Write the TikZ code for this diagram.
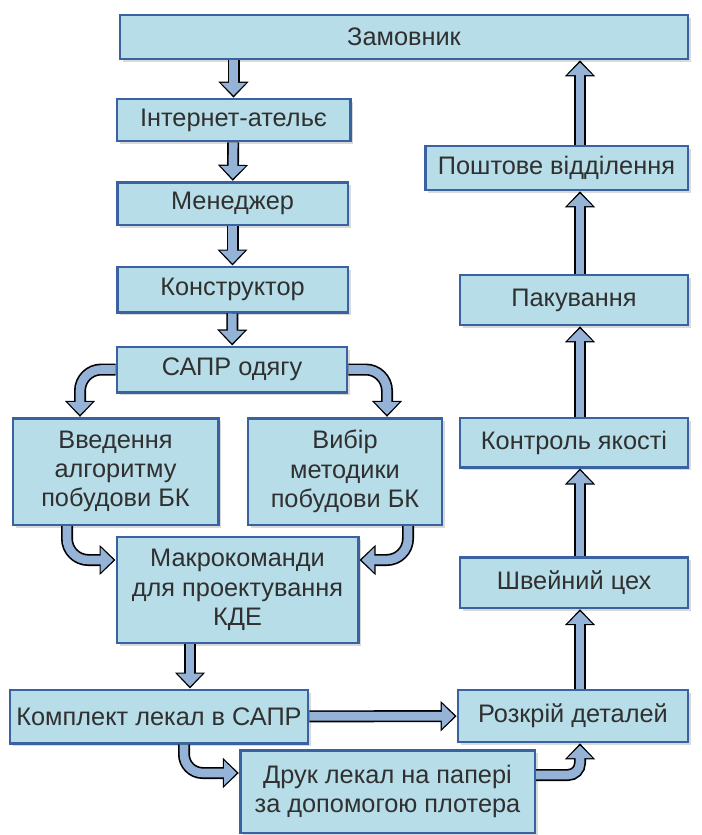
\documentclass[tikz,border=0pt]{standalone}
\usepackage{fontspec}
\setmainfont{Liberation Sans}
\usetikzlibrary{arrows.meta,shadows}

\definecolor{boxfill}{HTML}{B7DDE8}
\definecolor{boxline}{HTML}{3A61A0}
\definecolor{arrfill}{HTML}{95B3D7}
\definecolor{txt}{HTML}{303030}

\tikzstyle{blk}=[draw=boxline, line width=2pt, fill=boxfill, text=txt, align=center, inner sep=2pt,
  font=\fontsize{19}{22}\selectfont,
  drop shadow={shadow xshift=2pt, shadow yshift=-2pt, opacity=0.3}]
\tikzstyle{flow}=[draw=arrfill, line width=6.5pt, shorten >=1.6pt, -{Triangle[width=18pt,length=9.5pt]},
  preaction={draw=black, line width=9pt, shorten >=0pt, -{Triangle[width=22pt,length=12pt]}}]

\begin{document}
\begin{tikzpicture}[x=0.75pt, y=-0.75pt]
    \useasboundingbox (0,0) rectangle (702,835);

    % left column
    \node [blk, minimum width=426pt, minimum height=33pt] (zam) at (404,37) {Замовник};
    \node [blk, minimum width=175pt, minimum height=31.5pt] (inet) at (233.5,120) {Інтернет-ательє};
    \node [blk, minimum width=173pt, minimum height=32pt] (mgr) at (232.5,203.5) {Менеджер};
    \node [blk, minimum width=173pt, minimum height=34pt] (konstr) at (232.5,289.5) {Конструктор};
    \node [blk, minimum width=172.5pt, minimum height=34pt] (sapr) at (232,369.5) {САПР одягу};
    \node [blk, minimum width=154pt, minimum height=80pt] (vved) at (115.5,471.5) {Введення\\алгоритму\\побудови БК};
    \node [blk, minimum width=145.5pt, minimum height=80pt] (vybir) at (345,471.5) {Вибір\\методики\\побудови БК};
    \node [blk, minimum width=181pt, minimum height=79.5pt] (makro) at (237.5,590) {Макрокоманди\\для проектування\\КДЕ};
    \node [blk, minimum width=223.5pt, minimum height=40pt] (kompl) at (159,716.5) {Комплект лекал в САПР};
    \node [blk, minimum width=221pt, minimum height=62pt] (druk) at (387.5,791.5) {Друк лекал на папері\\за допомогою плотера};

    % right column
    \node [blk, minimum width=172.5pt, minimum height=39pt] (rozkr) at (573,716) {Розкрій деталей};
    \node [blk, minimum width=171pt, minimum height=38pt] (shv) at (574,582.5) {Швейний цех};
    \node [blk, minimum width=171pt, minimum height=37pt] (kontr) at (574,442.5) {Контроль якості};
    \node [blk, minimum width=171pt, minimum height=37.5pt] (pakuv) at (574,300) {Пакування};
    \node [blk, minimum width=197pt, minimum height=33pt] (posht) at (556.5,168) {Поштове відділення};

    \coordinate (lc) at (80,0);
    \coordinate (rc1) at (387,0);
    \coordinate (ml) at (67,560);
    \coordinate (mr) at (408,560);
    \coordinate (dk) at (190,0);
    \coordinate (kd) at (184,773);
    \coordinate (dr) at (580,775);
    \coordinate (rc) at (580,0);

    \draw [flow] (zam.south -| inet) -- (inet.north);
    \draw [flow] (inet) -- (mgr);
    \draw [flow] (mgr) -- (konstr);
    \draw [flow] (konstr) -- (sapr);
    \draw [flow, rounded corners=16pt] (sapr.west) -| (vved.north -| lc);
    \draw [flow, rounded corners=16pt] (sapr.east) -| (vybir.north -| rc1);
    \draw [flow, rounded corners=16pt] (vved.south -| ml) |- (makro.west |- ml);
    \draw [flow, rounded corners=16pt] (vybir.south -| mr) |- (makro.east |- mr);
    \draw [flow] (makro.south -| dk) -- (kompl.north -| dk);
    \draw [flow] (kompl) -- (rozkr);
    \draw [flow, rounded corners=14pt] (kompl.south -| kd) |- (druk.west |- kd);
    \draw [flow, rounded corners=9pt] (druk.east |- dr) -| (rozkr.south -| dr);
    \draw [flow] (rozkr.north -| rc) -- (shv.south -| rc);
    \draw [flow] (shv.north -| rc) -- (kontr.south -| rc);
    \draw [flow] (kontr.north -| rc) -- (pakuv.south -| rc);
    \draw [flow] (pakuv.north -| rc) -- (posht.south -| rc);
    \draw [flow] (posht.north -| rc) -- (zam.south -| rc);
\end{tikzpicture}
\end{document}
